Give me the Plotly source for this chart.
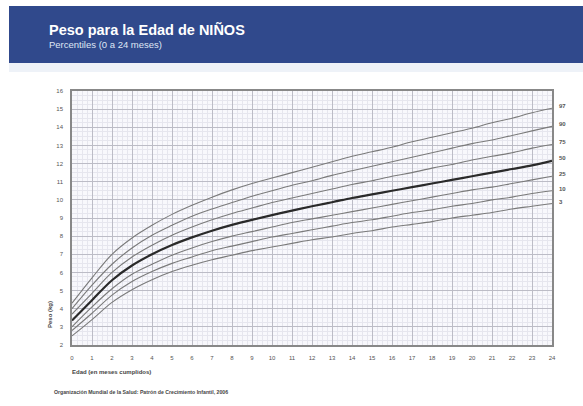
import plotly.graph_objects as go

months = list(range(0, 25))
p3 = [2.5, 3.4, 4.35, 5.05, 5.6, 6.05, 6.4, 6.7, 6.95, 7.2, 7.4, 7.6, 7.8, 7.95, 8.15, 8.3, 8.5, 8.65, 8.8, 9.0, 9.15, 9.3, 9.5, 9.65, 9.8]
p10 = [2.8, 3.75, 4.75, 5.5, 6.05, 6.5, 6.85, 7.2, 7.45, 7.7, 7.95, 8.15, 8.35, 8.55, 8.75, 8.9, 9.1, 9.3, 9.45, 9.65, 9.8, 10.0, 10.15, 10.35, 10.5]
p25 = [3.0, 4.1, 5.1, 5.9, 6.45, 6.95, 7.35, 7.7, 8.0, 8.25, 8.5, 8.75, 8.95, 9.15, 9.35, 9.55, 9.75, 9.95, 10.15, 10.35, 10.55, 10.7, 10.9, 11.1, 11.3]
p50 = [3.35, 4.47, 5.57, 6.38, 7.0, 7.51, 7.93, 8.3, 8.62, 8.9, 9.16, 9.41, 9.65, 9.87, 10.1, 10.3, 10.5, 10.7, 10.9, 11.1, 11.3, 11.5, 11.7, 11.9, 12.15]
p75 = [3.7, 4.85, 6.0, 6.85, 7.5, 8.05, 8.5, 8.9, 9.25, 9.55, 9.85, 10.1, 10.35, 10.6, 10.85, 11.05, 11.3, 11.5, 11.75, 11.95, 12.2, 12.4, 12.6, 12.85, 13.05]
p90 = [4.0, 5.3, 6.45, 7.35, 8.05, 8.6, 9.1, 9.5, 9.85, 10.2, 10.5, 10.8, 11.05, 11.35, 11.6, 11.85, 12.1, 12.35, 12.6, 12.85, 13.1, 13.3, 13.55, 13.8, 14.05]
p97 = [4.3, 5.7, 7.0, 7.9, 8.6, 9.2, 9.7, 10.15, 10.55, 10.9, 11.2, 11.5, 11.8, 12.1, 12.4, 12.65, 12.9, 13.2, 13.45, 13.7, 13.95, 14.25, 14.5, 14.8, 15.05]

series = [("97", p97), ("90", p90), ("75", p75), ("50", p50), ("25", p25), ("10", p10), ("3", p3)]
label_y = {"97": 15.2, "90": 14.2, "75": 13.2, "50": 12.3, "25": 11.4, "10": 10.6, "3": 9.9}

x_ticks = list(range(0, 25))
y_ticks = list(range(2, 17))

title = "Peso para la Edad de NIÑOS"
subtitle = "Percentiles (0 a 24 meses)"
x_title = "Edad (en meses cumplidos)"
y_title = "Peso (kg)"
source = "Organización Mundial de la Salud: Patrón de Crecimiento Infantil, 2006"

fig = go.Figure()
for name, vals in series:
    bold = name == "50"
    fig.add_trace(go.Scatter(
        x=months, y=vals, mode="lines", name=name,
        line=dict(color="#2a2a2a" if bold else "#7a7a7a", width=2.2 if bold else 1.1, shape="spline"),
        showlegend=False, hoverinfo="skip"))
    fig.add_annotation(x=24, y=label_y[name], text="<b>" + name + "</b>", showarrow=False,
                       xanchor="left", xshift=5, font=dict(size=6, color="#555555"))

fig.update_xaxes(range=[0, 24], tickvals=x_ticks, ticktext=[str(v) for v in x_ticks],
                 showgrid=True, gridcolor="#bcbcc6", gridwidth=1,
                 minor=dict(dtick=0.25, showgrid=True, gridcolor="#e6e6ee", gridwidth=0.5),
                 showline=True, linecolor="#888888", linewidth=1.5, mirror=True,
                 zeroline=False, tickfont=dict(size=6, color="#555555", family="Arial"),
                 ticks="", ticklabelstandoff=6)
fig.update_yaxes(range=[2, 16], tickvals=y_ticks, ticktext=[str(v) for v in y_ticks],
                 showgrid=True, gridcolor="#bcbcc6", gridwidth=1,
                 minor=dict(dtick=0.25, showgrid=True, gridcolor="#e6e6ee", gridwidth=0.5),
                 showline=True, linecolor="#888888", linewidth=1.5, mirror=True,
                 zeroline=False, tickfont=dict(size=6, color="#555555", family="Arial"),
                 ticks="", ticklabelstandoff=6)

shapes = [
    dict(type="rect", xref="paper", yref="paper", x0=(9 - 72) / 480, x1=(583 - 72) / 480,
         y0=(345 - 63) / 254, y1=(345 - 6) / 254,
         fillcolor="#30498c", line=dict(width=0), layer="below"),
    dict(type="rect", xref="paper", yref="paper", x0=(9 - 72) / 480, x1=(583 - 72) / 480,
         y0=(345 - 72) / 254, y1=(345 - 63) / 254,
         fillcolor="#eef2f8", line=dict(width=0), layer="below"),
]

fig.update_layout(
    width=583, height=406,
    margin=dict(l=72, r=31, t=91, b=61),
    paper_bgcolor="white", plot_bgcolor="#f8f8fc",
    shapes=shapes,
    font=dict(family="Arial"),
)
fig.add_annotation(xref="paper", yref="paper", x=(47 - 72) / 480, y=(345 - 30) / 254, text="<b>" + title + "</b>",
                   showarrow=False, xanchor="left", yanchor="middle", font=dict(size=14.5, color="white"))
fig.add_annotation(xref="paper", yref="paper", x=(47 - 72) / 480, y=(345 - 44) / 254, text=subtitle,
                   showarrow=False, xanchor="left", yanchor="middle", font=dict(size=9.5, color="#dfe6f4"))
fig.add_annotation(xref="paper", yref="paper", x=(70 - 72) / 480, y=(345 - 372) / 254, text="<b>" + x_title + "</b>",
                   showarrow=False, xanchor="left", yanchor="middle", font=dict(size=6, color="#444444"))
fig.add_annotation(xref="paper", yref="paper", x=(50 - 72) / 480, y=(345 - 315) / 254, text="<b>" + y_title + "</b>",
                   showarrow=False, textangle=-90, xanchor="center", yanchor="middle", font=dict(size=6, color="#444444"))
fig.add_annotation(xref="paper", yref="paper", x=(52 - 72) / 480, y=(345 - 392) / 254, text="<b>" + source + "</b>",
                   showarrow=False, xanchor="left", yanchor="middle", font=dict(size=5.2, color="#444444"))

fig.write_html("out.html", config={"displayModeBar": False},
               post_script="document.body.style.margin='0';document.body.style.padding='0';")
